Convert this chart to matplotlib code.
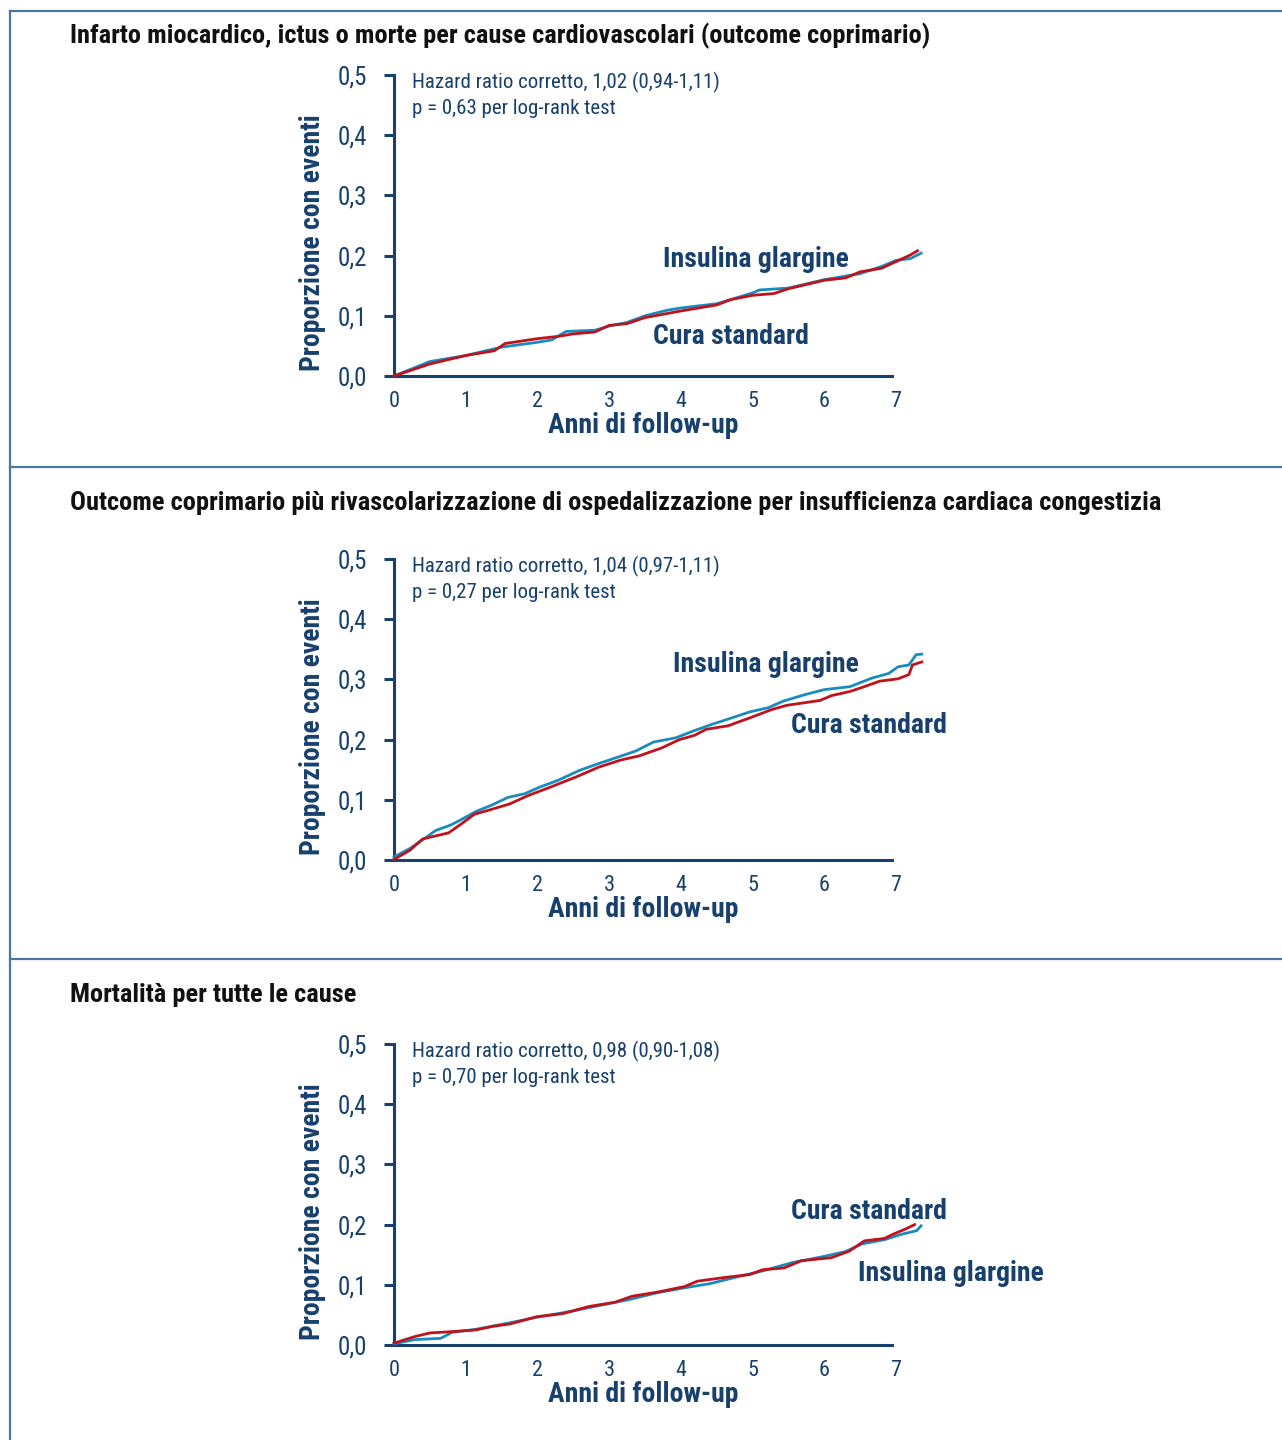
import matplotlib.pyplot as plt
from matplotlib.lines import Line2D

# -----------------------------
# Data
# -----------------------------
titles = [
    "Infarto miocardico, ictus o morte per cause cardiovascolari (outcome coprimario)",
    "Outcome coprimario più rivascolarizzazione di ospedalizzazione per insufficienza cardiaca congestizia",
    "Mortalità per tutte le cause",
]
hr_text = [
    "Hazard ratio corretto, 1,02 (0,94-1,11)",
    "Hazard ratio corretto, 1,04 (0,97-1,11)",
    "Hazard ratio corretto, 0,98 (0,90-1,08)",
]
p_text = [
    "p = 0,63 per log-rank test",
    "p = 0,27 per log-rank test",
    "p = 0,70 per log-rank test",
]

# panel 1
p1_std_x = [0, 0.5, 1, 1.4, 1.55, 2, 2.3, 2.5, 2.8, 3, 3.25, 3.5, 4, 4.5, 4.7, 5, 5.3, 5.5, 6, 6.3, 6.5, 6.8, 7, 7.2, 7.3]
p1_std_y = [0.0, 0.02, 0.034, 0.042, 0.054, 0.062, 0.066, 0.07, 0.073, 0.084, 0.087, 0.097, 0.108, 0.118, 0.127,
            0.134, 0.137, 0.145, 0.159, 0.163, 0.173, 0.179, 0.19, 0.201, 0.208]
p1_gla_x = [0, 0.5, 1, 1.5, 2, 2.2, 2.4, 2.8, 3, 3.25, 3.5, 3.8, 4, 4.5, 5, 5.1, 5.5, 6, 6.5, 6.8, 7, 7.2, 7.35]
p1_gla_y = [0.0, 0.024, 0.034, 0.048, 0.056, 0.06, 0.074, 0.076, 0.083, 0.089, 0.1, 0.109, 0.113, 0.12, 0.138,
            0.143, 0.146, 0.16, 0.17, 0.182, 0.192, 0.195, 0.204]

# panel 2
p2_gla_x = [0, 0.22, 0.43, 0.58, 0.79, 0.92, 1.15, 1.36, 1.59, 1.82, 2.03, 2.28, 2.59, 2.85, 3.1, 3.37, 3.62,
            3.93, 4.19, 4.45, 4.71, 4.96, 5.22, 5.43, 5.74, 6.0, 6.36, 6.66, 6.9, 7.03, 7.18, 7.28, 7.36]
p2_gla_y = [0.005, 0.019, 0.036, 0.049, 0.058, 0.066, 0.081, 0.091, 0.104, 0.11, 0.121, 0.132, 0.149, 0.16, 0.17,
            0.181, 0.196, 0.203, 0.215, 0.226, 0.236, 0.246, 0.253, 0.264, 0.275, 0.283, 0.288, 0.302, 0.31,
            0.321, 0.324, 0.341, 0.342]
p2_std_x = [0, 0.22, 0.4, 0.58, 0.76, 0.94, 1.12, 1.3, 1.61, 1.87, 2.18, 2.54, 2.85, 3.16, 3.42, 3.73, 3.98,
            4.19, 4.35, 4.66, 4.96, 5.27, 5.48, 5.94, 6.1, 6.36, 6.56, 6.77, 7.03, 7.18, 7.23, 7.36]
p2_std_y = [0.001, 0.016, 0.035, 0.04, 0.045, 0.06, 0.076, 0.082, 0.093, 0.107, 0.121, 0.138, 0.154, 0.166,
            0.173, 0.186, 0.2, 0.207, 0.217, 0.223, 0.236, 0.25, 0.257, 0.265, 0.273, 0.28, 0.288, 0.297,
            0.301, 0.308, 0.324, 0.329]

# panel 3
p3_std_x = [0, 0.29, 0.5, 0.78, 1.14, 1.38, 1.62, 1.99, 2.35, 2.72, 3.08, 3.32, 3.68, 4.05, 4.23, 4.6, 4.96,
            5.14, 5.44, 5.68, 6.1, 6.35, 6.56, 6.84, 6.96, 7.14, 7.26]
p3_std_y = [0.003, 0.014, 0.02, 0.022, 0.025, 0.031, 0.035, 0.047, 0.052, 0.064, 0.071, 0.081, 0.088, 0.097,
            0.106, 0.112, 0.117, 0.125, 0.128, 0.14, 0.145, 0.156, 0.173, 0.177, 0.184, 0.193, 0.2]
p3_gla_x = [0, 0.29, 0.65, 0.81, 1.14, 1.62, 1.99, 2.47, 2.84, 3.26, 3.68, 4.05, 4.41, 4.78, 5.14, 5.56, 5.99,
            6.29, 6.53, 6.84, 7.08, 7.29, 7.35]
p3_gla_y = [0.002, 0.009, 0.011, 0.021, 0.026, 0.037, 0.046, 0.056, 0.065, 0.075, 0.087, 0.095, 0.102, 0.113,
            0.123, 0.137, 0.147, 0.155, 0.168, 0.175, 0.184, 0.19, 0.198]

panels = [
    (p1_gla_x, p1_gla_y, p1_std_x, p1_std_y),
    (p2_gla_x, p2_gla_y, p2_std_x, p2_std_y),
    (p3_gla_x, p3_gla_y, p3_std_x, p3_std_y),
]
# curve label positions (data coords): glargine, standard
label_pos = [
    ((5.05, 0.193), (4.70, 0.066)),
    ((5.18, 0.324), (6.62, 0.223)),
    ((7.77, 0.118), (6.62, 0.222)),
]

# -----------------------------
# Style
# -----------------------------
NAVY = "#17406d"
BLUE = "#1a8bbd"
RED = "#c0121c"
FRAME = "#4a76a0"
plt.rcParams["font.family"] = ["Roboto Condensed", "Liberation Sans Narrow", "Liberation Sans", "DejaVu Sans"]

W, H = 1282, 1440
fig = plt.figure(figsize=(W / 100, H / 100), dpi=100)

# frame lines
for y in [11, 467, 959]:
    fig.add_artist(Line2D([10 / W, 1], [1 - y / H, 1 - y / H], color=FRAME, lw=1.6))
fig.add_artist(Line2D([10 / W, 10 / W], [0, 1 - 11 / H], color=FRAME, lw=1.6))

px_year = 71.71
x0_px = 394
zero_px = [376, 860, 1345]
title_px = [36, 503, 995]

for i, (gx, gy, sx, sy) in enumerate(panels):
    fig.text(70 / W, 1 - title_px[i] / H, titles[i], ha="left", va="center",
             fontsize=19, fontweight="bold", color="#111111")

    ax_w = 7.4 * px_year
    ax = fig.add_axes([x0_px / W, 1 - zero_px[i] / H, ax_w / W, 301 / H])
    ax.set_xlim(0, 7.4)
    ax.set_ylim(0, 0.5)

    ax.plot(gx, gy, color=BLUE, lw=2.0, clip_on=False, zorder=3)
    ax.plot(sx, sy, color=RED, lw=2.0, clip_on=False, zorder=4)

    for s in ["top", "right"]:
        ax.spines[s].set_visible(False)
    for s in ["left", "bottom"]:
        ax.spines[s].set_color(NAVY)
        ax.spines[s].set_linewidth(2.2)
    ax.spines["bottom"].set_bounds(0, 6.95)
    ax.spines["left"].set_bounds(0, 0.5)

    ax.set_xticks(range(8))
    ax.set_xticklabels([str(v) for v in range(8)])
    ax.set_yticks([0, 0.1, 0.2, 0.3, 0.4, 0.5])
    ax.set_yticklabels(["0,0", "0,1", "0,2", "0,3", "0,4", "0,5"])
    ax.tick_params(axis="x", length=0, pad=11, labelsize=16, colors=NAVY)
    ax.tick_params(axis="y", length=7, width=2.2, pad=12, labelsize=18, colors=NAVY)

    ax.text(0.25, 0.487, hr_text[i], ha="left", va="center", fontsize=15, color=NAVY)
    ax.text(0.25, 0.445, p_text[i], ha="left", va="center", fontsize=15, color=NAVY)

    (gl, st) = label_pos[i]
    ax.text(gl[0], gl[1], "Insulina glargine", ha="center", va="center",
            fontsize=20, fontweight="bold", color=NAVY)
    ax.text(st[0], st[1], "Cura standard", ha="center", va="center",
            fontsize=20, fontweight="bold", color=NAVY)

    ax.text(3.48, -0.082, "Anni di follow-up", ha="center", va="center",
            fontsize=20, fontweight="bold", color=NAVY)
    ax.text(-1.13, 0.222, "Proporzione con eventi", ha="center", va="center", rotation=90,
            fontsize=20, fontweight="bold", color=NAVY)

fig.savefig("out.png", dpi=100)
